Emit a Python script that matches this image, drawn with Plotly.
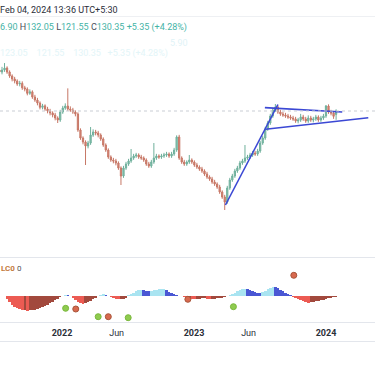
import pandas as pd
import plotly.graph_objects as go

# ---------------- data ----------------
week_start = "2021-07-05"

open_ = [169.0, 171.35, 169.35, 171.35, 173.35, 169.35, 165.35, 162.35, 160.35, 157.35,
         158.0, 153.5, 152.35, 148.0, 149.5, 144.35, 141.35, 138.35, 134.0, 135.5,
         132.35, 130.35, 128.35, 126.35, 123.35, 121.35, 129.35, 133.35, 135.35, 132.35,
         131.35, 129.35, 127.35, 111.35, 103.35, 99.35, 95.35, 98.35, 106.35, 109.35,
         108.35, 106.35, 102.35, 96.35, 91.35, 84.35, 81.35, 80.35, 78.35, 73.35,
         65.35, 73.35, 77.35, 80.35, 83.35, 85.35, 86.35, 84.35, 83.35, 81.35,
         77.35, 75.35, 79.35, 83.35, 85.35, 84.35, 85.35, 86.35, 87.35, 85.35,
         87.35, 91.35, 104.35, 83.35, 79.35, 77.35, 79.35, 81.35, 79.35, 76.35,
         74.35, 72.35, 70.35, 67.35, 64.35, 62.35, 59.35, 57.35, 54.35, 49.35,
         44.35, 39.35, 53.35, 61.35, 65.35, 70.35, 73.35, 78.35, 80.35, 83.35,
         84.35, 86.35, 88.35, 87.35, 90.35, 98.35, 103.35, 112.35, 118.35, 125.35,
         131.35, 134.35, 129.35, 127.35, 126.35, 125.35, 124.35, 123.35, 122.35, 120.35,
         121.35, 124.35, 122.35, 120.35, 123.35, 121.35, 122.35, 124.35, 121.35, 123.35,
         125.35, 135.35, 129.35, 128.35, 126.90]

high = [175.5, 174.0, 174.5, 178.3, 175.0, 171.0, 167.0, 164.5, 162.0, 160.5,
        160.0, 155.5, 154.0, 152.0, 151.0, 146.5, 143.5, 140.0, 137.5, 137.0,
        134.5, 132.5, 130.0, 128.5, 125.0, 131.5, 135.5, 138.0, 153.0, 135.0,
        133.5, 131.0, 129.0, 113.0, 105.0, 101.0, 100.5, 114.35, 112.0, 111.5,
        110.5, 108.0, 104.0, 98.0, 93.0, 86.0, 83.5, 82.5, 80.0, 75.0,
        75.5, 79.5, 82.5, 92.35, 87.5, 88.5, 88.0, 86.5, 85.0, 83.0,
        79.5, 81.5, 98.35, 87.5, 87.0, 87.5, 88.5, 89.5, 89.0, 89.5,
        93.5, 106.0, 106.5, 85.0, 81.5, 81.0, 86.35, 83.0, 81.0, 78.5,
        76.0, 74.5, 72.0, 69.5, 66.0, 64.5, 61.5, 59.0, 56.5, 51.0,
        46.5, 55.5, 63.5, 67.5, 72.5, 75.5, 80.5, 82.5, 96.35, 86.5,
        88.5, 90.5, 90.5, 92.5, 100.5, 105.5, 114.5, 120.5, 127.5, 133.5,
        137.35, 136.0, 131.5, 129.5, 128.5, 127.5, 126.5, 125.5, 124.5, 123.5,
        127.5, 126.5, 124.5, 126.0, 125.5, 124.5, 126.5, 126.0, 125.5, 127.5,
        136.35, 137.0, 131.5, 130.0, 132.05]

low = [167.0, 167.5, 167.0, 169.5, 167.5, 163.5, 160.0, 158.0, 155.5, 155.0,
       151.5, 150.0, 146.0, 146.5, 142.5, 139.5, 136.0, 132.0, 132.0, 130.5,
       128.0, 126.0, 124.0, 121.0, 118.35, 119.5, 127.5, 131.5, 130.5, 129.5,
       127.5, 125.0, 109.5, 101.5, 97.0, 76.35, 93.0, 96.5, 104.5, 106.0,
       104.0, 100.5, 94.5, 89.5, 82.5, 79.5, 78.0, 76.0, 71.5, 56.35,
       63.5, 71.5, 75.5, 78.5, 81.5, 83.5, 82.5, 81.5, 79.5, 75.5,
       73.5, 73.5, 77.5, 81.5, 82.5, 82.5, 83.5, 84.5, 83.5, 83.5,
       85.5, 89.5, 81.5, 77.5, 75.5, 75.5, 77.5, 77.5, 74.5, 72.5,
       70.5, 68.5, 65.5, 62.5, 60.5, 57.5, 55.5, 52.5, 47.5, 42.5,
       31.35, 37.5, 51.5, 59.5, 63.5, 68.5, 71.5, 76.5, 78.5, 81.5,
       82.5, 84.5, 85.5, 85.5, 88.5, 96.5, 101.5, 110.5, 116.5, 123.5,
       129.5, 127.5, 125.5, 124.5, 123.5, 122.5, 121.5, 120.5, 118.5, 118.0,
       119.5, 120.5, 118.5, 118.5, 119.5, 119.0, 120.5, 119.5, 119.5, 121.5,
       123.5, 127.5, 126.0, 122.5, 121.55]

close = [171.35, 169.35, 171.35, 173.35, 169.35, 165.35, 162.35, 160.35, 157.35, 158.0,
         153.5, 152.35, 148.0, 149.5, 144.35, 141.35, 138.35, 134.0, 135.5, 132.35,
         130.35, 128.35, 126.35, 123.35, 121.35, 129.35, 133.35, 135.35, 132.35, 131.35,
         129.35, 127.35, 111.35, 103.35, 99.35, 95.35, 98.35, 106.35, 109.35, 108.35,
         106.35, 102.35, 96.35, 91.35, 84.35, 81.35, 80.35, 78.35, 73.35, 65.35,
         73.35, 77.35, 80.35, 83.35, 85.35, 86.35, 84.35, 83.35, 81.35, 77.35,
         75.35, 79.35, 83.35, 85.35, 84.35, 85.35, 86.35, 87.35, 85.35, 87.35,
         91.35, 104.35, 83.35, 79.35, 77.35, 79.35, 81.35, 79.35, 76.35, 74.35,
         72.35, 70.35, 67.35, 64.35, 62.35, 59.35, 57.35, 54.35, 49.35, 44.35,
         39.35, 53.35, 61.35, 65.35, 70.35, 73.35, 78.35, 80.35, 83.35, 84.35,
         86.35, 88.35, 87.35, 90.35, 98.35, 103.35, 112.35, 118.35, 125.35, 131.35,
         134.35, 129.35, 127.35, 126.35, 125.35, 124.35, 123.35, 122.35, 120.35, 121.35,
         124.35, 122.35, 120.35, 123.35, 121.35, 122.35, 124.35, 121.35, 123.35, 125.35,
         135.35, 129.35, 128.35, 125.00, 130.35]

momentum = [0, 0, 0, 0, -3, -6, -9, -11, -12, -13,
            -14, -14, -14.5, -14, -14, -13.5, -13, -12, -11, -10,
            -9, -7, -6, -4, -2.5, -1, 0, 0.5, 0.5, 0,
            -2, -4, -5.5, -7, -7.5, -7, -6, -4.5, -3, -1.5,
            0, 1, 1.5, 1, 0, -1, -2, -2.5, -3, -3,
            -2.5, -1.5, 1, 2, 3.5, 5, 6, 6.5, 6, 5.5,
            5, 5.5, 6, 6.5, 6.8, 7, 7.2, 6, 4.5, 3,
            2, 1, 0, 0, -1, -2, -2, -2.5, -3, -3,
            -2.5, -2, -2, -2.5, -3, -3, -2.5, -2, -2, -1.5,
            -1, 0, 1, 2, 3.5, 5, 6, 7, 7.5, 7,
            6, 5, 4, 3.5, 3, 4, 5.5, 7, 8.5, 9.5,
            9, 8, 6.5, 5, 3.5, 2, 1, -1, -2, -3,
            -4, -5, -6, -6.5, -6, -5.5, -5, -4.5, -4, -3.5,
            -3, -2, -1.5, -1, -0.5]

dot_dates = ["2022-01-11", "2022-02-08", "2022-04-11", "2022-05-09", "2022-07-03",
             "2022-12-15", "2023-04-20", "2023-10-04"]
dot_values = [-12.3, -13, -20.7, -20.7, -21.7, -3.3, -10.7, 20.7]
dot_kinds = ["buy", "sell", "buy", "sell", "buy", "sell", "buy", "sell"]

trend_dates = [["2023-03-29", "2023-08-21"],
               ["2023-07-16", "2024-02-15"],
               ["2023-07-18", "2024-04-27"]]
trend_prices = [[36.35, 136.85],
                [133.75, 129.35],
                [112.05, 123.65]]

tick_dates = ["2022-01-01", "2022-06-01", "2023-01-01", "2023-06-01", "2024-01-01"]
tick_labels = ["<b>2022</b>", "Jun", "<b>2023</b>", "Jun", "<b>2024</b>"]

# ---------------- figure ----------------
W, H = 375, 366
dates = pd.date_range(week_start, periods=len(close), freq="7D")


def py(p):  # pixel row -> paper fraction
    return 1 - p / H


fig = go.Figure()

fig.add_trace(go.Candlestick(
    x=dates, open=open_, high=high, low=low, close=close,
    increasing=dict(line=dict(color="#6fb09c", width=1), fillcolor="#88c4b1"),
    decreasing=dict(line=dict(color="#c77766", width=1), fillcolor="#d98878"),
    whiskerwidth=0, xaxis="x", yaxis="y", hoverinfo="skip", showlegend=False))

for d, p in zip(trend_dates, trend_prices):
    fig.add_trace(go.Scatter(x=d, y=p, mode="lines", line=dict(color="#3b48d4", width=1.6),
                             xaxis="x", yaxis="y", hoverinfo="skip", showlegend=False))

# momentum histogram colours from indicator logic
bar_colors = []
prev = 0
for v in momentum:
    if v >= 0:
        bar_colors.append("#a9e4f1" if v > prev else "#4a57d4")
    else:
        bar_colors.append("#ec5b53" if v < prev else "#a2493d")
    prev = v

fig.add_trace(go.Bar(x=dates, y=momentum, marker=dict(color=bar_colors, line=dict(width=0)),
                     width=7 * 86400000, xaxis="x", yaxis="y2", hoverinfo="skip", showlegend=False))

kind_fill = {"buy": "#8fcb4f", "sell": "#d8694f"}
kind_edge = {"buy": "#7ab83c", "sell": "#a8553a"}
fig.add_trace(go.Scatter(
    x=dot_dates, y=dot_values, mode="markers",
    marker=dict(size=6, color=[kind_fill[k] for k in dot_kinds],
                line=dict(color=[kind_edge[k] for k in dot_kinds], width=1)),
    xaxis="x", yaxis="y2", hoverinfo="skip", showlegend=False))

shapes = []
# price line at last close
shapes.append(dict(type="line", xref="paper", x0=0, x1=1, yref="y", y0=close[-1], y1=close[-1],
                   line=dict(color="#c9cdd4", width=1, dash="dot")))
for p, c in [(16.5, "#eef0f3"), (257.5, "#e3e6ec"), (322.5, "#e3e6ec"), (341.5, "#e3e6ec")]:
    shapes.append(dict(type="line", xref="paper", x0=0, x1=1, yref="paper", y0=py(p), y1=py(p),
                       line=dict(color=c, width=1)))

teal = "#45b3a6"
dark = "#4a4e58"
ohlc_text = (f"<span style='color:{teal}'>6.90</span> <span style='color:{dark}'>H</span>"
             f"<span style='color:{teal}'>132.05</span> <span style='color:{dark}'>L</span>"
             f"<span style='color:{teal}'>121.55</span> <span style='color:{dark}'>C</span>"
             f"<span style='color:{teal}'>130.35</span> <span style='color:{teal}'>+5.35 (+4.28%)</span>")

annotations = [
    dict(text="Feb 04, 2024 13:36 UTC+5:30", x=0, y=py(10), xref="paper", yref="paper",
         xanchor="left", yanchor="middle", showarrow=False, xshift=-2,
         font=dict(family="Roboto", size=9, color="#2a2e39")),
    dict(text=ohlc_text, x=0, y=py(28), xref="paper", yref="paper",
         xanchor="left", yanchor="middle", showarrow=False, xshift=-2,
         font=dict(family="Roboto", size=9, color=teal)),
    dict(text="123.05    121.55    130.35   +5.35 (+4.28%)", x=0, y=py(53), xref="paper", yref="paper",
         xanchor="left", yanchor="middle", showarrow=False, xshift=-2,
         font=dict(family="Roboto", size=9, color="#e3f5f8")),
    dict(text="5.90", x=168 / W, y=py(43), xref="paper", yref="paper",
         xanchor="left", yanchor="middle", showarrow=False,
         font=dict(family="Roboto", size=9, color="#dff3f7")),
    dict(text="<span style='color:#c47a3c'><b>LC0</b></span> <span style='color:#555'>0</span>",
         x=0, y=py(268), xref="paper", yref="paper", xanchor="left", yanchor="middle",
         showarrow=False, xshift=-1, font=dict(family="Roboto", size=8, color="#555")),
]

fig.update_layout(
    width=W, height=H, margin=dict(l=0, r=0, t=0, b=0),
    paper_bgcolor="white", plot_bgcolor="white",
    showlegend=False, bargap=0, hovermode=False,
    xaxis=dict(type="date", range=["2021-07-13 11:00", "2024-05-15 14:00"], anchor="y2",
               domain=[0, 1], showgrid=False, zeroline=False, showline=False,
               tickvals=tick_dates, ticktext=tick_labels, ticks="", ticklabelstandoff=3,
               tickfont=dict(family="Roboto", size=9, color="#2a2e39"),
               rangeslider=dict(visible=False)),
    yaxis=dict(domain=[py(255), py(40)], range=[-13.65, 201.35], showgrid=False,
               zeroline=False, showticklabels=False, fixedrange=True),
    yaxis2=dict(domain=[py(323), py(258)], range=[-27, 38], showgrid=False,
                zeroline=False, showticklabels=False),
    shapes=shapes, annotations=annotations,
)

fig.write_html("out.html", config={"displayModeBar": False},
               post_script="document.body.style.margin='0px';")
